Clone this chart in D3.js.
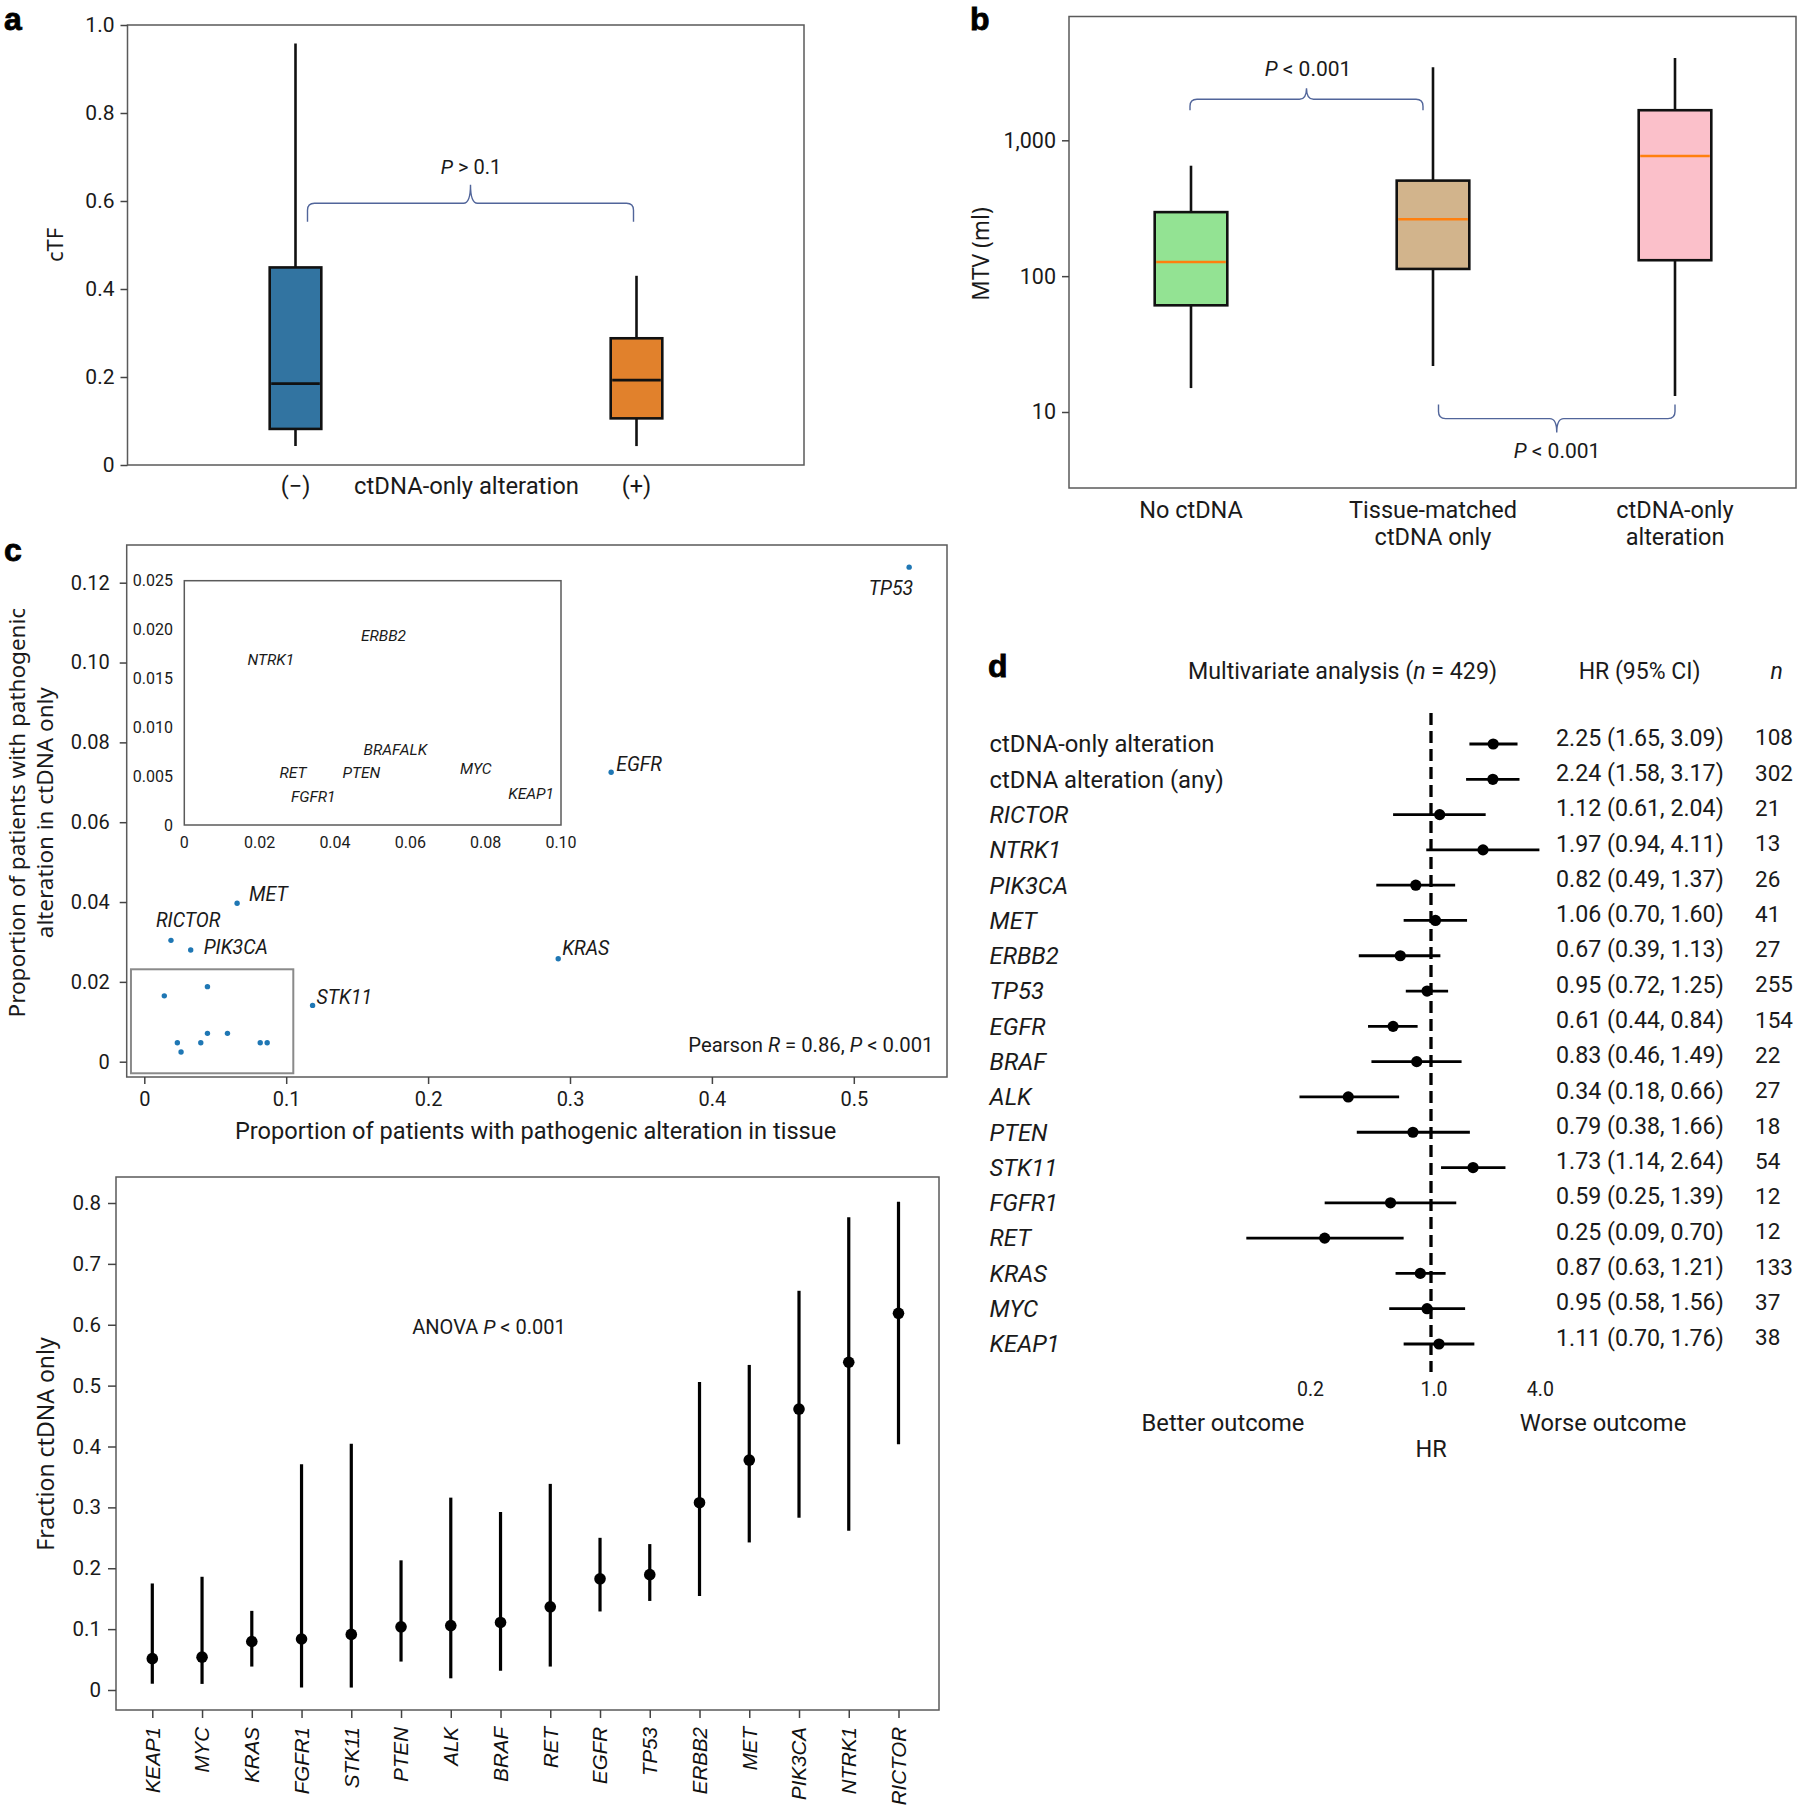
<!DOCTYPE html>
<html><head><meta charset="utf-8">
<script src="https://cdn.jsdelivr.net/npm/d3@7"></script>
<style>body{margin:0;background:#fff}svg{display:block}</style>
</head><body>
<svg id="chart" width="1800" height="1814"></svg>
<script>
// ================= DATA =================
// Panel a: cTF by ctDNA-only alteration
const aCategories = ["(\u2212)", "(+)"];
const aWhiskerLow = [0.043, 0.043];
const aQ1 = [0.082, 0.106];
const aMedian = [0.185, 0.193];
const aQ3 = [0.449, 0.288];
const aWhiskerHigh = [0.958, 0.430];
const aTicks = [0, 0.2, 0.4, 0.6, 0.8, 1.0];

// Panel b: MTV (ml), log scale
const bCategories = ["No ctDNA", "Tissue-matched|ctDNA only", "ctDNA-only|alteration"];
const bWhiskerLow = [15.0, 21.8, 13.1];
const bQ1 = [61, 113, 131];
const bMedian = [127, 262, 766];
const bQ3 = [296, 505, 1665];
const bWhiskerHigh = [650, 3445, 4027];
const bTicks = [10, 100, 1000];

// Panel c: scatter tissue vs ctDNA-only
const cGenes = ["TP53","EGFR","KRAS","STK11","MET","RICTOR","PIK3CA","NTRK1","ERBB2","BRAF","ALK","RET","PTEN","FGFR1","MYC","KEAP1"];
const cTissue = [0.539,0.329,0.2917,0.1186,0.0654,0.0188,0.0327,0.0141,0.0445,0.0445,0.0586,0.0233,0.0398,0.0259,0.0817,0.0866];
const cCtdnaOnly = [0.1239,0.0725,0.0258,0.0141,0.0397,0.0304,0.0280,0.0165,0.0188,0.0071,0.0071,0.00474,0.00474,0.00243,0.00474,0.00474];
const cXTicks = [0, 0.1, 0.2, 0.3, 0.4, 0.5];
const cYTicks = [0, 0.02, 0.04, 0.06, 0.08, 0.10, 0.12];
// Inset (zoom of low-frequency genes): label anchors
const insetGenes = ["NTRK1","ERBB2","BRAF","ALK","RET","PTEN","MYC","FGFR1","KEAP1"];
const insetLabelX = [0.0168,0.0469,0.0476,0.0572,0.0253,0.0420,0.0732,0.0283,0.0860];
const insetLabelY = [0.01695,0.01934,0.00774,0.00774,0.00539,0.00539,0.00573,0.00290,0.00324];
const insetXTicks = [0, 0.02, 0.04, 0.06, 0.08, 0.10];
const insetYTicks = [0, 0.005, 0.010, 0.015, 0.020, 0.025];
const zoomBoxX = [-0.0094, 0.1050];
const zoomBoxY = [-0.0029, 0.02315];

// Panel c (bottom): fraction ctDNA only with CI
const fGenes = ["KEAP1","MYC","KRAS","FGFR1","STK11","PTEN","ALK","BRAF","RET","EGFR","TP53","ERBB2","MET","PIK3CA","NTRK1","RICTOR"];
const fValue = [0.0515,0.054,0.0797,0.0838,0.0913,0.1037,0.1058,0.111,0.1367,0.1827,0.1895,0.3077,0.3777,0.4615,0.5384,0.6188];
const fLow = [0.0103,0.010,0.0385,0.004,0.004,0.0467,0.0192,0.0316,0.0385,0.129,0.1463,0.1545,0.2424,0.283,0.2616,0.4038];
const fHigh = [0.175,0.186,0.130,0.371,0.4045,0.213,0.316,0.2926,0.3386,0.250,0.2397,0.506,0.534,0.6558,0.7767,0.802];
const fTicks = [0, 0.1, 0.2, 0.3, 0.4, 0.5, 0.6, 0.7, 0.8];

// Panel d: forest plot
const dLabels = ["ctDNA-only alteration","ctDNA alteration (any)","RICTOR","NTRK1","PIK3CA","MET","ERBB2","TP53","EGFR","BRAF","ALK","PTEN","STK11","FGFR1","RET","KRAS","MYC","KEAP1"];
const dHR = [2.25,2.24,1.12,1.97,0.82,1.06,0.67,0.95,0.61,0.83,0.34,0.79,1.73,0.59,0.25,0.87,0.95,1.11];
const dLow = [1.65,1.58,0.61,0.94,0.49,0.70,0.39,0.72,0.44,0.46,0.18,0.38,1.14,0.25,0.09,0.63,0.58,0.70];
const dHigh = [3.09,3.17,2.04,4.11,1.37,1.60,1.13,1.25,0.84,1.49,0.66,1.66,2.64,1.39,0.70,1.21,1.56,1.76];
const dN = [108,302,21,13,26,41,27,255,154,22,27,18,54,12,12,133,37,38];
const dTicks = [0.2, 1.0, 4.0];

// ================= STYLE =================
const FONT = "Roboto, 'Liberation Sans', sans-serif";
const TFONT = "'Noto Sans', 'Liberation Sans', sans-serif";
const HFONT = "'Liberation Sans', Arial, sans-serif";
const FRAME = "#5a5a5a";
const BRACE = "#51659a";
const INK = "#1a1a1a";
const aColors = ["#3274a1", "#e1812c"];
const bColors = ["#93e393", "#d2b48c", "#fbc0ca"];

const svg = d3.select("#chart");
svg.append("rect").attr("width", 1800).attr("height", 1814).attr("fill", "#fff");

function rich(g, x, y, parts, attrs) {
  const t = g.append("text").attr("x", x).attr("y", y);
  Object.entries(attrs || {}).forEach(([k, v]) => t.attr(k, v));
  parts.forEach(p => {
    const s = t.append("tspan").text(p[0]);
    if (p[1]) s.attr("font-style", "italic");
  });
  return t;
}
function panelLabel(x, y, s) {
  svg.append("text").attr("x", x).attr("y", y).text(s)
    .attr("font-family", HFONT).attr("font-weight", 700).attr("font-size", 32).attr("fill", "#000")
    .attr("stroke", "#000").attr("stroke-width", 0.8);
}
function brace(g, x1, x2, y, h, dir) {
  const xm = (x1 + x2) / 2, r = 7;
  const yEnd = y - dir * h, yPeak = y + dir * h;
  const p = `M${x1},${yEnd} L${x1},${y - dir * r} Q${x1},${y} ${x1 + r},${y} L${xm - r},${y} Q${xm},${y} ${xm},${yPeak} Q${xm},${y} ${xm + r},${y} L${x2 - r},${y} Q${x2},${y} ${x2},${y - dir * r} L${x2},${yEnd}`;
  g.append("path").attr("d", p).attr("fill", "none").attr("stroke", BRACE).attr("stroke-width", 1.4);
}
function styleAxis(ax, size) {
  ax.select(".domain").remove();
  ax.selectAll("line").attr("stroke", "#444").attr("stroke-width", 1.5);
  ax.selectAll("text").attr("font-family", FONT).attr("font-size", size).attr("fill", INK);
}
function boxplot(g, xs, yScale, lo, q1, med, q3, hi, colors, half, medColor) {
  const idx = d3.range(xs.length);
  g.selectAll(".wl").data(idx).join("line")
    .attr("x1", i => xs[i]).attr("x2", i => xs[i])
    .attr("y1", i => yScale(lo[i])).attr("y2", i => yScale(hi[i]))
    .attr("stroke", "#111").attr("stroke-width", 2.6);
  g.selectAll(".bx").data(idx).join("rect")
    .attr("x", i => xs[i] - half).attr("width", half * 2)
    .attr("y", i => yScale(q3[i])).attr("height", i => yScale(q1[i]) - yScale(q3[i]))
    .attr("fill", i => colors[i]).attr("stroke", "#111").attr("stroke-width", 2.6);
  g.selectAll(".md").data(idx).join("line")
    .attr("x1", i => xs[i] - half + 1.5).attr("x2", i => xs[i] + half - 1.5)
    .attr("y1", i => yScale(med[i])).attr("y2", i => yScale(med[i]))
    .attr("stroke", medColor).attr("stroke-width", 2.6);
}

// ================= PANEL a =================
{
  const g = svg.append("g");
  const L = 127.5, R = 804, T = 25, B = 465;
  const x = d3.scalePoint().domain(aCategories).range([295.5, 636.5]);
  const y = d3.scaleLinear().domain([0, 1]).range([B, T]);
  g.append("rect").attr("x", L).attr("y", T).attr("width", R - L).attr("height", B - T)
    .attr("fill", "none").attr("stroke", FRAME).attr("stroke-width", 1.5);
  const ax = g.append("g").attr("transform", `translate(${L},0)`)
    .call(d3.axisLeft(y).tickValues(aTicks).tickSize(7).tickPadding(6)
      .tickFormat(d => d === 0 ? "0" : d3.format(".1f")(d)));
  styleAxis(ax, 21);
  boxplot(g, aCategories.map(c => x(c)), y, aWhiskerLow, aQ1, aMedian, aQ3, aWhiskerHigh, aColors, 25.8, "#111");
  brace(g, x(aCategories[0]) + 12, x(aCategories[1]) - 3, y(0.595), 18.5, -1);
  rich(g, (x(aCategories[0]) + x(aCategories[1])) / 2 + 5, 174, [["P", true], [" > 0.1", false]],
    {"font-family": FONT, "font-size": 20, "text-anchor": "middle", fill: INK});
  aCategories.forEach(c => g.append("text").attr("x", x(c)).attr("y", 494).text(c)
    .attr("font-family", FONT).attr("font-size", 23.5).attr("text-anchor", "middle").attr("fill", INK));
  g.append("text").attr("x", (x(aCategories[0]) + x(aCategories[1])) / 2 + 0.5).attr("y", 494).text("ctDNA-only alteration")
    .attr("font-family", FONT).attr("font-size", 23.8).attr("text-anchor", "middle").attr("fill", INK);
  g.append("text").attr("transform", "translate(55,245) rotate(-90)").text("cTF")
    .attr("font-family", TFONT).attr("font-size", 22).attr("text-anchor", "middle").attr("dy", "0.35em").attr("fill", INK);
  panelLabel(4, 30, "a");
}

// ================= PANEL b =================
{
  const g = svg.append("g");
  const L = 1069, R = 1796, T = 16.5, B = 488;
  const x = d3.scalePoint().domain(bCategories).range([1191, 1675]);
  const y = d3.scaleLog().domain([10, 1000]).range([412, 140.3]);
  g.append("rect").attr("x", L).attr("y", T).attr("width", R - L).attr("height", B - T)
    .attr("fill", "none").attr("stroke", FRAME).attr("stroke-width", 1.5);
  const ax = g.append("g").attr("transform", `translate(${L},0)`)
    .call(d3.axisLeft(y).tickValues(bTicks).tickSize(7).tickPadding(6).tickFormat(d3.format(",")));
  styleAxis(ax, 21.5);
  boxplot(g, bCategories.map(c => x(c)), y, bWhiskerLow, bQ1, bMedian, bQ3, bWhiskerHigh, bColors, 36.3, "#ff7f0e");
  brace(g, x(bCategories[0]) - 1, x(bCategories[1]) - 10, y(2004), 11, -1);
  rich(g, 1308, 76, [["P", true], [" < 0.001", false]], {"font-family": FONT, "font-size": 21, "text-anchor": "middle", fill: INK});
  brace(g, x(bCategories[1]) + 5.5, x(bCategories[2]), y(8.94), 14, 1);
  rich(g, 1557, 458, [["P", true], [" < 0.001", false]], {"font-family": FONT, "font-size": 21, "text-anchor": "middle", fill: INK});
  bCategories.forEach(c => {
    const t = g.append("text").attr("x", x(c)).attr("y", 518)
      .attr("font-family", FONT).attr("font-size", 23.5).attr("text-anchor", "middle").attr("fill", INK);
    c.split("|").forEach((line, k) => t.append("tspan").attr("x", x(c)).attr("dy", k === 0 ? 0 : 27).text(line));
  });
  g.append("text").attr("transform", "translate(981,254) rotate(-90)").text("MTV (ml)")
    .attr("font-family", TFONT).attr("font-size", 22.7).attr("text-anchor", "middle").attr("dy", "0.35em").attr("fill", INK);
  panelLabel(970, 30, "b");
}

// ================= PANEL c (scatter) =================
{
  const g = svg.append("g");
  const L = 126.7, R = 947, T = 545, B = 1077;
  const x = d3.scaleLinear().domain([0, 0.5]).range([144.3, 853.8]);
  const y = d3.scaleLinear().domain([0, 0.12]).range([1061.7, 582.7]);
  g.append("rect").attr("x", L).attr("y", T).attr("width", R - L).attr("height", B - T)
    .attr("fill", "none").attr("stroke", FRAME).attr("stroke-width", 1.5);
  const axL = g.append("g").attr("transform", `translate(${L},0)`)
    .call(d3.axisLeft(y).tickValues(cYTicks).tickSize(7).tickPadding(10)
      .tickFormat(d => d === 0 ? "0" : d3.format(".2f")(d)));
  styleAxis(axL, 20);
  const axB = g.append("g").attr("transform", `translate(0,${B})`)
    .call(d3.axisBottom(x).tickValues(cXTicks).tickSize(7).tickPadding(8)
      .tickFormat(d => d === 0 ? "0" : d3.format(".1f")(d)));
  styleAxis(axB, 20);

  g.append("rect").attr("x", x(zoomBoxX[0])).attr("y", y(zoomBoxY[1]))
    .attr("width", x(zoomBoxX[1]) - x(zoomBoxX[0])).attr("height", y(zoomBoxY[0]) - y(zoomBoxY[1]))
    .attr("fill", "none").attr("stroke", "#8a8a8a").attr("stroke-width", 2);

  g.selectAll(".pt").data(d3.range(cGenes.length)).join("circle")
    .attr("cx", i => x(cTissue[i])).attr("cy", i => y(cCtdnaOnly[i])).attr("r", 2.7).attr("fill", "#1f77b4");

  const place = {
    TP53: [4, 21, "end"], EGFR: [5, -8, "start"], KRAS: [4, -11, "start"], STK11: [4, -8, "start"],
    MET: [12, -9, "start"], RICTOR: [-15, -20, "start"], PIK3CA: [13, -3, "start"]
  };
  cGenes.forEach((gname, i) => {
    const p = place[gname];
    if (!p) return;
    g.append("text").attr("x", x(cTissue[i]) + p[0]).attr("y", y(cCtdnaOnly[i]) + p[1]).attr("dy", "0.35em")
      .attr("text-anchor", p[2]).text(gname).attr("font-family", FONT).attr("font-style", "italic")
      .attr("font-size", 19.5).attr("fill", INK);
  });

  const ix = d3.scaleLinear().domain([0, 0.1]).range([184.3, 561]);
  const iy = d3.scaleLinear().domain([0, 0.025]).range([825, 580.7]);
  g.append("rect").attr("x", ix(0)).attr("y", iy(0.025)).attr("width", ix(0.1) - ix(0)).attr("height", iy(0) - iy(0.025))
    .attr("fill", "#fff").attr("stroke", FRAME).attr("stroke-width", 1.5);
  g.selectAll(".iyt").data(insetYTicks).join("text")
    .attr("x", 173).attr("y", d => iy(d)).attr("dy", "0.35em").attr("text-anchor", "end")
    .text(d => d === 0 ? "0" : d3.format(".3f")(d))
    .attr("font-family", FONT).attr("font-size", 16).attr("fill", INK);
  g.selectAll(".ixt").data(insetXTicks).join("text")
    .attr("x", d => ix(d)).attr("y", 842.5).attr("dy", "0.35em").attr("text-anchor", "middle")
    .text(d => d === 0 ? "0" : d3.format(".2f")(d))
    .attr("font-family", FONT).attr("font-size", 16).attr("fill", INK);
  g.selectAll(".ilab").data(d3.range(insetGenes.length)).join("text")
    .attr("x", i => ix(insetLabelX[i])).attr("y", i => iy(insetLabelY[i])).attr("dy", "0.35em")
    .text(i => insetGenes[i]).attr("font-family", FONT).attr("font-style", "italic")
    .attr("font-size", 15.5).attr("fill", INK);

  rich(g, 933.5, 1052, [["Pearson ", false], ["R", true], [" = 0.86, ", false], ["P", true], [" < 0.001", false]],
    {"font-family": FONT, "font-size": 20.3, "text-anchor": "end", fill: INK});
  g.append("text").attr("x", 535.6).attr("y", 1139).text("Proportion of patients with pathogenic alteration in tissue")
    .attr("font-family", FONT).attr("font-size", 23.6).attr("text-anchor", "middle").attr("fill", INK);
  const yt = g.append("text").attr("transform", "translate(17,812.7) rotate(-90)")
    .attr("font-family", TFONT).attr("font-size", 22.5).attr("text-anchor", "middle").attr("fill", INK);
  yt.append("tspan").attr("x", 0).attr("dy", "0.35em").text("Proportion of patients with pathogenic");
  yt.append("tspan").attr("x", 0).attr("dy", 28.6).text("alteration in ctDNA only");
  panelLabel(4, 561, "c");
}

// ================= PANEL c (bottom, fraction) =================
{
  const g = svg.append("g");
  const L = 116, R = 939, T = 1177, B = 1710;
  const x = d3.scalePoint().domain(fGenes).range([152.3, 898.5]);
  const y = d3.scaleLinear().domain([0, 0.8]).range([1690, 1203]);
  g.append("rect").attr("x", L).attr("y", T).attr("width", R - L).attr("height", B - T)
    .attr("fill", "none").attr("stroke", FRAME).attr("stroke-width", 1.5);
  const axL = g.append("g").attr("transform", `translate(${L},0)`)
    .call(d3.axisLeft(y).tickValues(fTicks).tickSize(8).tickPadding(7)
      .tickFormat(d => d === 0 ? "0" : d3.format(".1f")(d)));
  styleAxis(axL, 20.5);
  const axB = g.append("g").attr("transform", `translate(0,${B})`)
    .call(d3.axisBottom(x).tickSize(8).tickFormat(""));
  styleAxis(axB, 20);
  g.selectAll(".xl").data(fGenes).join("text")
    .attr("transform", d => `translate(${x(d)},1727) rotate(-90)`)
    .attr("text-anchor", "end").attr("dy", "0.36em").text(d => d)
    .attr("font-family", HFONT).attr("font-style", "italic").attr("font-size", 20.5).attr("fill", "#111");
  const idx = d3.range(fGenes.length);
  g.selectAll(".ci").data(idx).join("line")
    .attr("x1", i => x(fGenes[i])).attr("x2", i => x(fGenes[i]))
    .attr("y1", i => y(fLow[i])).attr("y2", i => y(fHigh[i]))
    .attr("stroke", "#000").attr("stroke-width", 3.2);
  g.selectAll(".pt").data(idx).join("circle")
    .attr("cx", i => x(fGenes[i])).attr("cy", i => y(fValue[i])).attr("r", 5.8).attr("fill", "#000");
  rich(g, 489, 1333.5, [["ANOVA ", false], ["P", true], [" < 0.001", false]],
    {"font-family": FONT, "font-size": 20, "text-anchor": "middle", fill: INK});
  g.append("text").attr("transform", "translate(45.6,1444) rotate(-90)").text("Fraction ctDNA only")
    .attr("font-family", TFONT).attr("font-size", 23).attr("text-anchor", "middle").attr("dy", "0.35em").attr("fill", INK);
}

// ================= PANEL d (forest) =================
{
  const g = svg.append("g");
  const x = d3.scaleLog().domain([0.2, 4]).range([1431 + Math.log(0.2) * 76.7, 1431 + Math.log(4) * 76.7]);
  const y = d3.scalePoint().domain(dLabels).range([744, 1344]);
  rich(g, 1342.5, 679, [["Multivariate analysis (", false], ["n", true], [" = 429)", false]],
    {"font-family": FONT, "font-size": 23.2, "text-anchor": "middle", fill: INK});
  g.append("text").attr("x", 1639.6).attr("y", 679).text("HR (95% CI)")
    .attr("font-family", FONT).attr("font-size", 23).attr("text-anchor", "middle").attr("fill", INK);
  g.append("text").attr("x", 1776.7).attr("y", 679).text("n").attr("font-style", "italic")
    .attr("font-family", FONT).attr("font-size", 23).attr("text-anchor", "middle").attr("fill", INK);

  g.append("line").attr("x1", x(1)).attr("x2", x(1)).attr("y1", 713).attr("y2", 1372)
    .attr("stroke", "#000").attr("stroke-width", 3.3).attr("stroke-dasharray", "12,6");

  const idx = d3.range(dLabels.length);
  g.selectAll(".ci").data(idx).join("line")
    .attr("x1", i => x(dLow[i])).attr("x2", i => x(dHigh[i]))
    .attr("y1", i => y(dLabels[i])).attr("y2", i => y(dLabels[i]))
    .attr("stroke", "#000").attr("stroke-width", 2.8);
  g.selectAll(".pt").data(idx).join("circle")
    .attr("cx", i => x(dHR[i])).attr("cy", i => y(dLabels[i])).attr("r", 5.6).attr("fill", "#000");
  g.selectAll(".lab").data(idx).join("text")
    .attr("x", 989.6).attr("y", i => y(dLabels[i])).attr("dy", "0.35em").text(i => dLabels[i])
    .attr("font-style", i => /^[A-Z0-9]+$/.test(dLabels[i]) ? "italic" : "normal")
    .attr("font-family", FONT).attr("font-size", 23.8).attr("fill", INK);
  g.selectAll(".hr").data(idx).join("text")
    .attr("x", 1556).attr("y", i => y(dLabels[i]) - 6.5).attr("dy", "0.35em")
    .text(i => `${dHR[i].toFixed(2)} (${dLow[i].toFixed(2)}, ${dHigh[i].toFixed(2)})`)
    .attr("font-family", FONT).attr("font-size", 23.2).attr("fill", INK);
  g.selectAll(".nn").data(idx).join("text")
    .attr("x", 1755).attr("y", i => y(dLabels[i]) - 6.5).attr("dy", "0.35em").text(i => dN[i])
    .attr("font-family", FONT).attr("font-size", 22.5).attr("fill", INK);
  g.selectAll(".tk").data(dTicks).join("text")
    .attr("x", d => x(d) + 3).attr("y", 1389).attr("dy", "0.35em").attr("text-anchor", "middle")
    .text(d => d3.format(".1f")(d)).attr("font-family", FONT).attr("font-size", 19.5).attr("fill", INK);
  g.append("text").attr("x", 1223).attr("y", 1423).attr("dy", "0.35em").attr("text-anchor", "middle").text("Better outcome")
    .attr("font-family", FONT).attr("font-size", 23.7).attr("fill", INK);
  g.append("text").attr("x", 1603).attr("y", 1423).attr("dy", "0.35em").attr("text-anchor", "middle").text("Worse outcome")
    .attr("font-family", FONT).attr("font-size", 23.7).attr("fill", INK);
  g.append("text").attr("x", x(1)).attr("y", 1449).attr("dy", "0.35em").attr("text-anchor", "middle").text("HR")
    .attr("font-family", FONT).attr("font-size", 23.5).attr("fill", INK);
  panelLabel(988, 677, "d");
}
</script>
</body></html>
